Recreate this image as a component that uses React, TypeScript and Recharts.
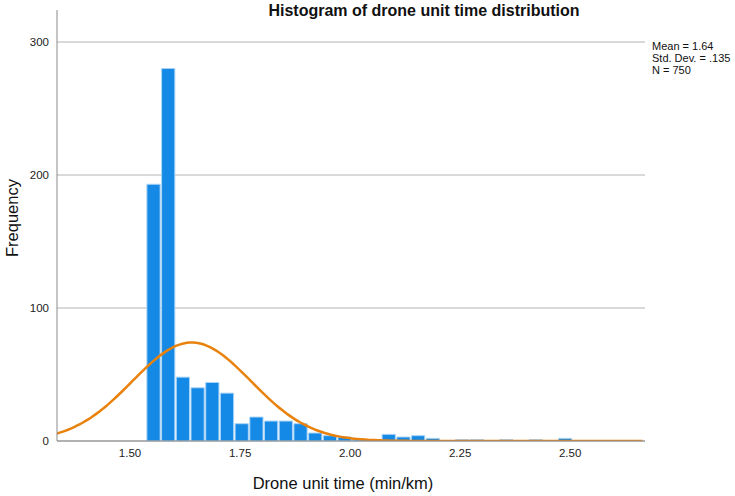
import React from "react";
import { ComposedChart, Bar, Line, XAxis, YAxis, CartesianGrid } from "recharts";

// Histogram bins: first left edge, bin width and counts per bin
const BIN_START = 1.536;
const BIN_WIDTH = 0.0334;
const binCounts = [
  193, 280, 48, 40, 44, 36, 13, 18, 15, 15, 13, 6, 4, 3, 1, 1, 5, 3, 4, 2, 0, 1, 1, 0, 1, 0, 1, 0, 2,
];

// Summary statistics shown in the corner, also used for the normal curve
const MEAN = 1.64;
const SD = 0.135;
const N = 750;

const X_MIN = 1.334;
const X_MAX = 2.67;
const Y_MAX = 324;
const xTicks = [1.5, 1.75, 2.0, 2.25, 2.5];
const yTicks = [0, 100, 200, 300];

const CHART_W = 735;
const CHART_H = 496;
const MARGIN = { top: 10, right: 90, bottom: 25, left: 17 };
const Y_AXIS_W = 40;
const PLOT_W = CHART_W - MARGIN.left - MARGIN.right - Y_AXIS_W;

const bins = binCounts.map((count, i) => ({
  mid: BIN_START + (i + 0.5) * BIN_WIDTH,
  count,
}));

// normal density scaled to counts per bin
const curve: { x: number; y: number }[] = [];
for (let x = X_MIN; x <= X_MAX + 1e-9; x += 0.01) {
  const z = (x - MEAN) / SD;
  curve.push({ x, y: (N * BIN_WIDTH * Math.exp(-0.5 * z * z)) / (SD * Math.sqrt(2 * Math.PI)) });
}

const barSize = (BIN_WIDTH / (X_MAX - X_MIN)) * PLOT_W;
const font = "Arial, 'Liberation Sans', sans-serif";

export default function App() {
  return (
    <div
      style={{
        position: "absolute",
        left: 0,
        top: 0,
        width: CHART_W,
        height: CHART_H,
        background: "#fff",
        fontFamily: font,
        color: "#111",
      }}
    >
      <ComposedChart width={CHART_W} height={CHART_H} data={bins} margin={MARGIN}>
        <CartesianGrid
          xAxisId="bins"
          vertical={false}
          horizontalValues={yTicks}
          stroke="#cdcdcd"
          strokeWidth={1.5}
        />
        <XAxis
          xAxisId="bins"
          dataKey="mid"
          type="number"
          domain={[X_MIN, X_MAX]}
          ticks={xTicks}
          tickFormatter={(v: number) => v.toFixed(2)}
          allowDataOverflow
          height={30}
          tickLine={false}
          stroke="#8a8a8a"
          tick={{ fill: "#222", fontSize: 11.5, fontFamily: font }}
        />
        <XAxis xAxisId="curve" dataKey="x" type="number" domain={[X_MIN, X_MAX]} allowDataOverflow hide />
        <YAxis
          domain={[0, Y_MAX]}
          ticks={yTicks}
          width={Y_AXIS_W}
          allowDataOverflow
          tickLine={false}
          stroke="#8a8a8a"
          tick={{ fill: "#222", fontSize: 11.5, fontFamily: font }}
        />
        <Bar
          xAxisId="bins"
          dataKey="count"
          barSize={barSize}
          fill="#1589e6"
          stroke="#a9d4f6"
          strokeWidth={1}
          isAnimationActive={false}
        />
        <Line
          xAxisId="curve"
          data={curve}
          dataKey="y"
          type="monotone"
          dot={false}
          stroke="#e8820c"
          strokeWidth={2.5}
          isAnimationActive={false}
        />
      </ComposedChart>

      <div
        style={{
          position: "absolute",
          left: 424,
          top: 2,
          transform: "translateX(-50%)",
          fontSize: 16,
          fontWeight: "bold",
          whiteSpace: "nowrap",
        }}
      >
        Histogram of drone unit time distribution
      </div>

      <div
        style={{
          position: "absolute",
          left: 12,
          top: 218,
          transform: "translate(-50%, -50%) rotate(-90deg)",
          fontSize: 16.5,
          whiteSpace: "nowrap",
        }}
      >
        Frequency
      </div>

      <div
        style={{
          position: "absolute",
          left: 343,
          top: 483,
          transform: "translate(-50%, -50%)",
          fontSize: 16.5,
          whiteSpace: "nowrap",
        }}
      >
        Drone unit time (min/km)
      </div>

      <div style={{ position: "absolute", left: 652, top: 40, fontSize: 11, lineHeight: "12px" }}>
        <div>Mean = {MEAN.toFixed(2)}</div>
        <div>Std. Dev. = {SD.toFixed(3).replace(/^0/, "")}</div>
        <div>N = {N}</div>
      </div>
    </div>
  );
}
